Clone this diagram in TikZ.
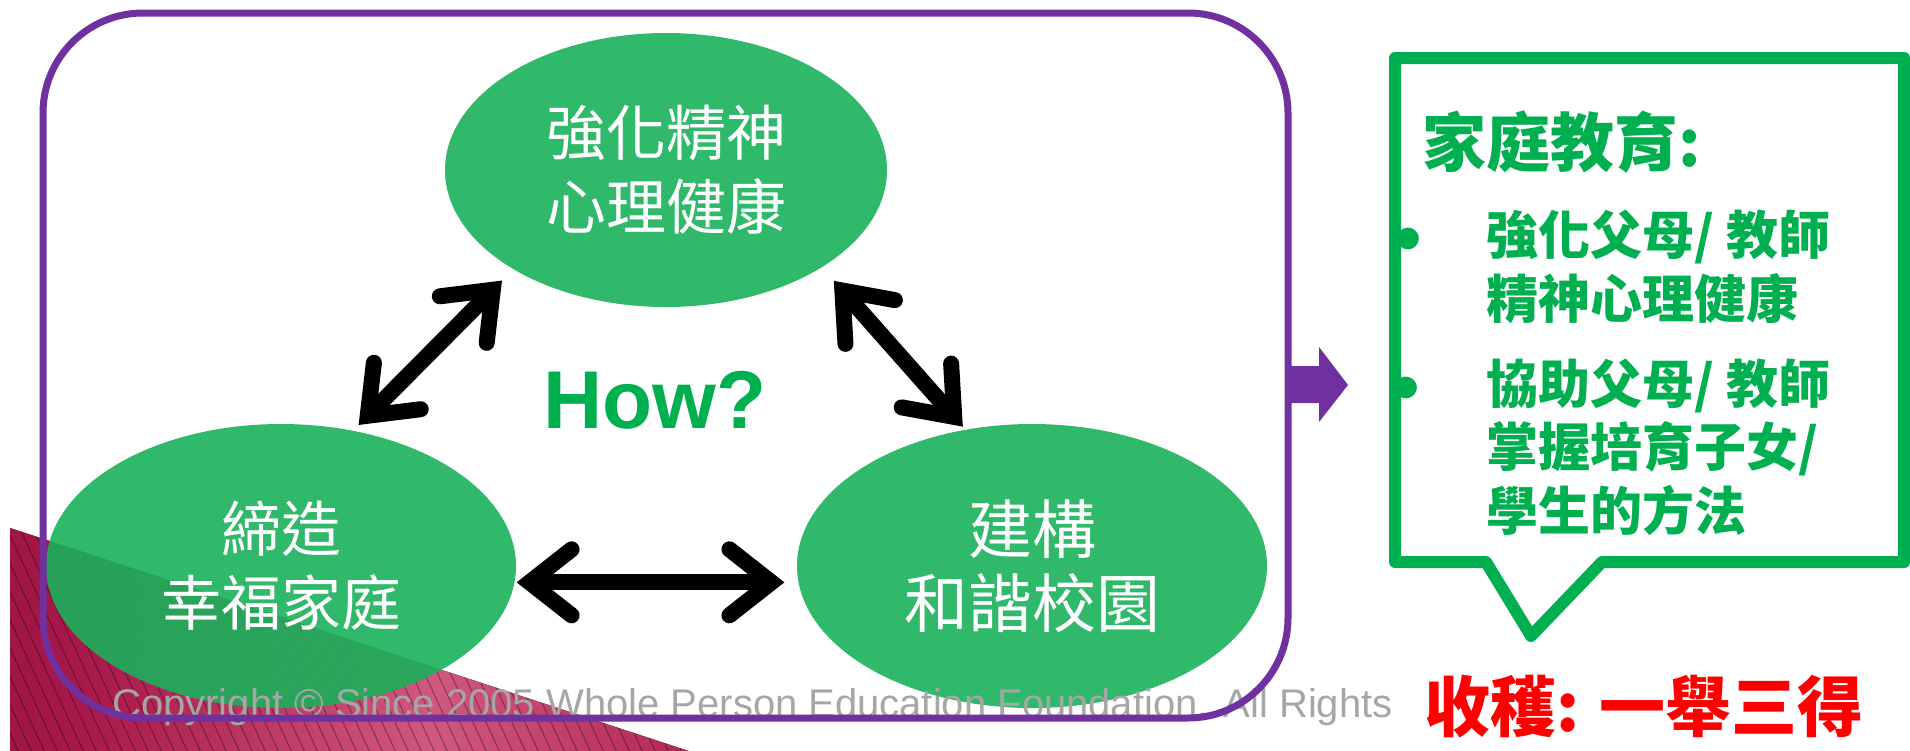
\documentclass[tikz,border=0pt]{standalone}
\usepackage{fontspec}
\setmainfont{Liberation Sans}
\newfontfamily\cjk{Noto Sans CJK TC}
\usetikzlibrary{arrows.meta,shapes.geometric}
\definecolor{boxpurple}{HTML}{7030A0}
\definecolor{offgreen}{HTML}{00B050}
\definecolor{ellgreen}{HTML}{1AB15A}
\definecolor{copygray}{HTML}{A6A6A6}
\definecolor{mA}{HTML}{760A2C}
\definecolor{mB}{HTML}{A8184A}
\definecolor{mC}{HTML}{D0587E}
\definecolor{mD}{HTML}{A81545}
\pgfdeclarehorizontalshading{maroonshade}{100bp}{color(0bp)=(mA); color(30bp)=(mB); color(55bp)=(mC); color(80bp)=(mD); color(100bp)=(mD)}
\tikzset{
  bubble/.style={ellipse, fill=ellgreen, fill opacity=0.9, text opacity=1, inner sep=0pt,
    text=white, align=center, font=\cjk\fontsize{60}{74}\selectfont},
  dblarrow/.style={line width=16pt, black,
    {Straight Barb[length=42pt,width=66pt,line cap=round,line join=miter]}-{Straight Barb[length=42pt,width=66pt,line cap=round,line join=miter]}},
  calltext/.style={text=offgreen, font=\cjk\bfseries\fontsize{52}{65}\selectfont, anchor=base west, inner sep=0pt},
  bulletmark/.style={text=offgreen, font=\fontsize{80}{80}\selectfont, anchor=center, inner sep=0pt},
}
\begin{document}
\begin{tikzpicture}[x=1pt,y=-1pt]
\useasboundingbox (0,0) rectangle (1910,750);
\begin{scope}
\clip (0,0) rectangle (1910,750);
% maroon triangle
\begin{scope}
\clip (10,528) -- (10,760) -- (716,760) -- cycle;
\fill[shading=maroonshade] (10,520) rectangle (716,760);
\foreach \i in {-400,-387,...,720}
  \draw[black, opacity=0.35, line width=1pt] (\i,520) -- ++(115,250);
\end{scope}
% ellipses
\node[bubble, minimum width=442pt, minimum height=274pt] (T) at (666,170) {強化精神\\心理健康};
\node[bubble, minimum width=470pt, minimum height=284pt] (L) at (281,566) {締造\\幸福家庭};
\node[bubble, minimum width=470pt, minimum height=284pt, font=\cjk\fontsize{64}{74}\selectfont] (R) at (1032,566) {建構\\和諧校園};
% arrows
\draw[dblarrow, shorten <=8pt, shorten >=16pt] (L.62) -- (T.213);
\draw[dblarrow, shorten <=18pt, shorten >=4pt] (T.-32) -- (R.116);
\draw[dblarrow, shorten <=2pt, shorten >=14pt] (L.-4) -- (R.184);
\node[text=offgreen, font=\bfseries\fontsize{82}{82}\selectfont, anchor=base, inner sep=0pt] (how) at (655,428) {How?};
% copyright
\node[text=copygray, font=\fontsize{40}{40}\selectfont, anchor=base west, inner sep=0pt] (copy) at (112,717) {Copyright © Since 2005 Whole Person Education Foundation. All Rights};
% purple frame
\draw[boxpurple, line width=7pt, rounded corners=100pt] (43,13) rectangle (1288,718);
\fill[boxpurple] (1288,366) -- (1319,366) -- (1319,347) -- (1348,385) -- (1319,422) -- (1319,403) -- (1288,403) -- cycle;
% callout
\draw[offgreen, line width=12pt, line join=round] (1395,58) -- (1904,58) -- (1904,562) -- (1602,562) -- (1531,636) -- (1486,562) -- (1395,562) -- cycle;
\node[text=offgreen, font=\cjk\bfseries\fontsize{64}{70}\selectfont, anchor=west, inner sep=0pt] (title) at (1422,142) {家庭教育:};
\node[bulletmark] (b1) at (1408,247) {•};
\node[bulletmark] (b2) at (1406,396) {•};
\node[calltext] (l1) at (1486,254) {強化父母/ 教師};
\node[calltext] (l2) at (1486,318) {精神心理健康};
\node[calltext] (l3) at (1486,403) {協助父母/ 教師};
\node[calltext] (l4) at (1486,466) {掌握培育子女/};
\node[calltext] (l5) at (1486,530) {學生的方法};
\node[text=red, font=\cjk\bfseries\fontsize{66}{70}\selectfont, anchor=west, inner sep=0pt] (harvest) at (1424,707) {收穫: 一舉三得};
\end{scope}
\end{tikzpicture}
\end{document}
